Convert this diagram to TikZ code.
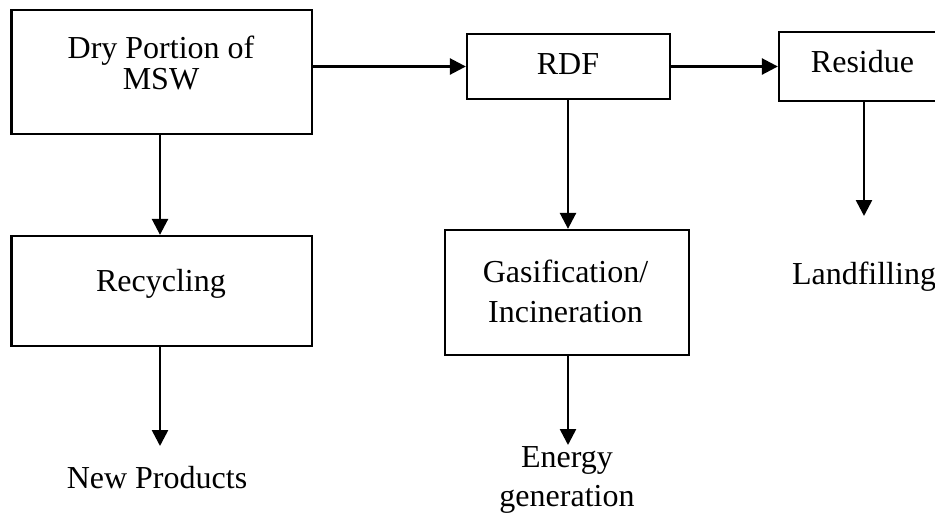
\documentclass[tikz,border=0pt]{standalone}
\usepackage{fontspec}
\setmainfont{Liberation Serif}
\usetikzlibrary{arrows.meta}
\begin{document}
\begin{tikzpicture}[x=1pt,y=-1pt,
  font=\fontsize{32}{40}\selectfont,
  stagebox/.style={draw,line width=2.3pt,minimum width=#1,inner sep=0pt},
  lbl/.style={inner sep=0pt,align=center},
  arr/.style={line width=2.6pt,-{Triangle[length=16pt,width=16pt]}}]
\useasboundingbox (0,0) rectangle (935,515);
\clip (0,0) rectangle (935,515);

% boxes
\node[stagebox=300.5pt,minimum height=124pt] (dry) at (161.75,72) {};
\node[stagebox=203pt,minimum height=65pt] (rdf) at (568.5,66.5) {};
\node[stagebox=167pt,minimum height=69pt] (residue) at (862.5,66.5) {};
\node[stagebox=300.5pt,minimum height=110pt] (recycling) at (161.75,291) {};
\node[stagebox=244pt,minimum height=125pt] (gas) at (567,292.5) {};

% texts
\node[lbl,font=\fontsize{32}{31}\selectfont] (drytxt) at (161,63) {Dry Portion of\\MSW};
\node[lbl,anchor=base] (rdftxt) at (568,74) {RDF};
\node[lbl,anchor=base] (restxt) at (862.5,72) {Residue};
\node[lbl,anchor=base] (rectxt) at (161,291) {Recycling};
\node[lbl] (gastxt) at (565.5,291) {Gasification/\\Incineration};
\node[lbl,anchor=base] (newprod) at (157,488) {New Products};
\node[lbl,font=\fontsize{32}{39}\selectfont] (energy) at (567,480) {Energy\\generation};
\node[lbl,anchor=base] (landfill) at (864,284) {Landfilling};

% free ends of the open arrows
\coordinate (recend) at (160,446);
\coordinate (gasend) at (568,445);
\coordinate (resend) at (864,216);

% connectors
\draw[arr] (rdf.west -| dry.east) -- (rdf.west);
\draw[arr] (rdf.east) -- (residue.west |- rdf.east);
\draw[arr] (dry.south -| recend) -- (recycling.north -| recend);
\draw[arr] (rdf.south -| gasend) -- (gas.north -| gasend);
\draw[arr] (recycling.south -| recend) -- (recend);
\draw[arr] (gas.south -| gasend) -- (gasend);
\draw[arr] (residue.south -| resend) -- (resend);
\end{tikzpicture}
\end{document}
